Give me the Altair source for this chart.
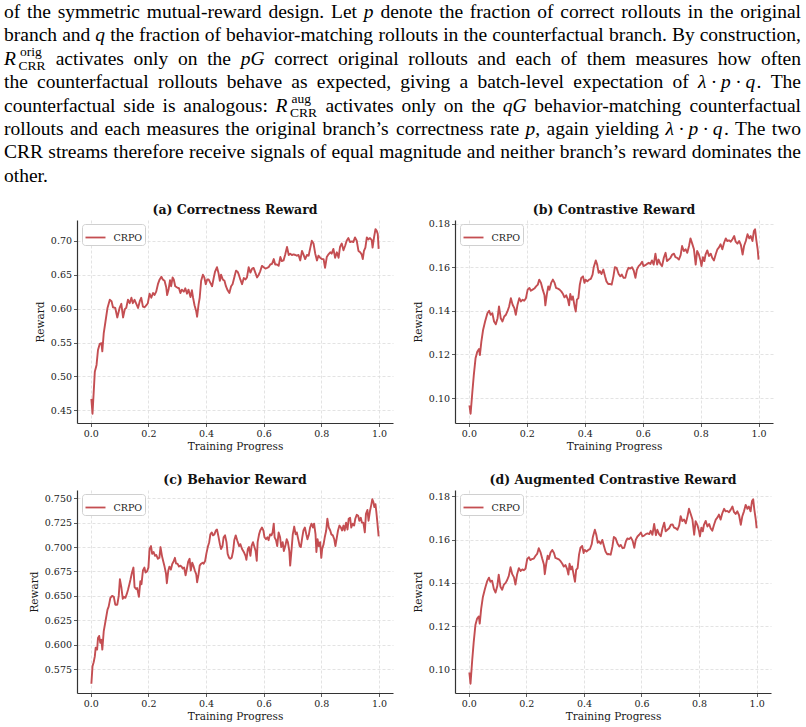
import altair as alt
import pandas as pd

# ---------------------------------------------------------------- data
RUN = "CRPO"
RED = "#C44E52"

progress_a = [
    0.002, 0.006, 0.014, 0.020, 0.025, 0.031, 0.037, 0.040, 0.045, 0.051,
    0.058, 0.066, 0.072, 0.077, 0.085, 0.092, 0.100, 0.106, 0.112, 0.118,
    0.123, 0.129, 0.135, 0.141, 0.146, 0.152, 0.158, 0.164, 0.170, 0.175,
    0.181, 0.187, 0.193, 0.198, 0.204, 0.210, 0.216, 0.221, 0.227, 0.233,
    0.239, 0.245, 0.250, 0.256, 0.262, 0.265, 0.270, 0.275, 0.279, 0.284,
    0.288, 0.293, 0.300, 0.306, 0.311, 0.316, 0.323, 0.328, 0.334, 0.339,
    0.346, 0.351, 0.355, 0.360, 0.366, 0.369, 0.374, 0.378, 0.383, 0.389,
    0.394, 0.399, 0.404, 0.409, 0.415, 0.421, 0.427, 0.431, 0.438, 0.443,
    0.448, 0.452, 0.458, 0.464, 0.469, 0.475, 0.481, 0.487, 0.492, 0.498,
    0.504, 0.510,
    0.513, 0.519, 0.525, 0.531, 0.537, 0.542, 0.548, 0.554, 0.560, 0.565,
    0.571, 0.577, 0.583, 0.588, 0.594, 0.600, 0.606, 0.612, 0.617, 0.623,
    0.629, 0.635, 0.640, 0.646, 0.652, 0.658, 0.663, 0.669, 0.675, 0.681,
    0.687, 0.692, 0.698, 0.704, 0.710, 0.715, 0.721, 0.727, 0.733, 0.738,
    0.744, 0.750, 0.756, 0.761, 0.767, 0.773, 0.779, 0.785, 0.790, 0.796,
    0.802, 0.808, 0.813, 0.819, 0.825, 0.831, 0.836, 0.842, 0.848, 0.854,
    0.860, 0.865, 0.871, 0.877, 0.883, 0.888, 0.894, 0.900, 0.906, 0.911,
    0.917, 0.923, 0.929, 0.935, 0.940,
    0.944, 0.948, 0.953, 0.958, 0.963, 0.969, 0.975, 0.978, 0.983, 0.988,
    0.992, 0.996, 0.999,
]
reward_a = [
    0.467, 0.445, 0.507, 0.517, 0.539, 0.548, 0.549, 0.537, 0.564, 0.581,
    0.601, 0.613, 0.611, 0.602, 0.601, 0.587, 0.601, 0.607, 0.587, 0.599,
    0.601, 0.613, 0.608, 0.616, 0.608, 0.613, 0.607, 0.601, 0.611, 0.616,
    0.603, 0.602, 0.605, 0.608, 0.622, 0.616, 0.623, 0.620, 0.625, 0.636,
    0.643, 0.647, 0.643, 0.641, 0.631, 0.620, 0.628, 0.642, 0.633, 0.646,
    0.643, 0.633, 0.631, 0.630, 0.623, 0.628, 0.625, 0.630, 0.622, 0.628,
    0.617, 0.627, 0.616, 0.605, 0.596, 0.588, 0.606, 0.616, 0.641, 0.650,
    0.646, 0.636, 0.643, 0.643, 0.638, 0.633, 0.646, 0.654, 0.661, 0.653,
    0.641, 0.650, 0.643, 0.641, 0.633, 0.627, 0.623, 0.633, 0.636, 0.646,
    0.656, 0.654,
    0.651, 0.643, 0.636, 0.645, 0.643, 0.646, 0.661, 0.653, 0.659, 0.660,
    0.653, 0.646, 0.650, 0.655, 0.663, 0.661, 0.659, 0.660, 0.661, 0.665,
    0.666, 0.673, 0.665, 0.665, 0.663, 0.676, 0.670, 0.671, 0.680, 0.691,
    0.679, 0.681, 0.679, 0.680, 0.679, 0.678, 0.679, 0.671, 0.685, 0.680,
    0.673, 0.679, 0.678, 0.688, 0.700, 0.696, 0.681, 0.671, 0.678, 0.675,
    0.673, 0.673, 0.660, 0.676, 0.680, 0.683, 0.681, 0.688, 0.675, 0.683,
    0.675, 0.691, 0.696, 0.686, 0.693, 0.700, 0.704, 0.698, 0.699, 0.698,
    0.705, 0.700, 0.685, 0.683, 0.680,
    0.673, 0.685, 0.690, 0.705, 0.702, 0.704, 0.701, 0.690, 0.705, 0.717,
    0.715, 0.710, 0.688,
]

# contrastive (b) and augmented contrastive (d) rewards share the same steps
progress_bd = [
    0.002, 0.006, 0.012, 0.017, 0.023, 0.029, 0.035, 0.038, 0.043, 0.049,
    0.056, 0.064, 0.070, 0.075, 0.081, 0.087, 0.093, 0.099, 0.104, 0.110,
    0.116, 0.122, 0.128, 0.133, 0.139, 0.145, 0.151, 0.157, 0.162, 0.168,
    0.174, 0.180, 0.186, 0.191, 0.197, 0.203, 0.209, 0.214, 0.220, 0.226,
    0.232, 0.238, 0.243, 0.249, 0.255, 0.261, 0.264, 0.269, 0.274, 0.278,
    0.284, 0.290, 0.296, 0.301, 0.307, 0.313, 0.319, 0.325, 0.330, 0.336,
    0.342, 0.346, 0.350, 0.355, 0.359, 0.365, 0.369, 0.373, 0.378, 0.383,
    0.388, 0.394, 0.399, 0.403, 0.409, 0.415, 0.421, 0.427, 0.431, 0.438,
    0.443, 0.448, 0.452, 0.458, 0.464, 0.470, 0.475, 0.481, 0.487, 0.493,
    0.499, 0.504, 0.510,
    0.517, 0.523, 0.528, 0.534, 0.540, 0.546, 0.551, 0.557, 0.563, 0.569,
    0.575, 0.580, 0.586, 0.592, 0.598, 0.603, 0.609, 0.615, 0.621, 0.627,
    0.632, 0.638, 0.644, 0.650, 0.655, 0.661, 0.667, 0.673, 0.679, 0.684,
    0.690, 0.696, 0.702, 0.708, 0.713, 0.719, 0.725, 0.731, 0.736, 0.742,
    0.748, 0.754, 0.760, 0.765, 0.771, 0.777, 0.783, 0.788, 0.794, 0.800,
    0.803, 0.808, 0.813, 0.817, 0.823, 0.829, 0.835, 0.840, 0.846, 0.852,
    0.858, 0.864, 0.869, 0.875, 0.881, 0.887, 0.892, 0.898, 0.904, 0.910,
    0.916, 0.921, 0.927, 0.933, 0.939, 0.945, 0.950, 0.956, 0.962, 0.968,
    0.973, 0.979, 0.984, 0.988, 0.992, 0.997, 1.000,
]
reward_b = [
    0.0966, 0.0928, 0.1028, 0.1105, 0.1182, 0.1212, 0.1225, 0.1197, 0.1258, 0.1312,
    0.1351, 0.1389, 0.1400, 0.1382, 0.1389, 0.1351, 0.1338, 0.1366, 0.1420, 0.1366,
    0.1351, 0.1374, 0.1382, 0.1397, 0.1420, 0.1458, 0.1428, 0.1412, 0.1382, 0.1428,
    0.1458, 0.1443, 0.1451, 0.1446, 0.1458, 0.1497, 0.1505, 0.1492, 0.1497, 0.1502,
    0.1512, 0.1520, 0.1543, 0.1528, 0.1497, 0.1471, 0.1425, 0.1474, 0.1512, 0.1497,
    0.1528, 0.1543, 0.1528, 0.1505, 0.1502, 0.1497, 0.1489, 0.1477, 0.1462, 0.1471,
    0.1451, 0.1425, 0.1477, 0.1451, 0.1466, 0.1420, 0.1397, 0.1451, 0.1458, 0.1520,
    0.1551, 0.1558, 0.1528, 0.1543, 0.1535, 0.1543, 0.1546, 0.1566, 0.1600, 0.1631,
    0.1612, 0.1574, 0.1582, 0.1569, 0.1589, 0.1558, 0.1535, 0.1523, 0.1523, 0.1520,
    0.1558, 0.1600, 0.1597,
    0.1569, 0.1558, 0.1566, 0.1551, 0.1551, 0.1582, 0.1597, 0.1594, 0.1600, 0.1585,
    0.1551, 0.1589, 0.1605, 0.1612, 0.1625, 0.1605, 0.1609, 0.1615, 0.1620, 0.1615,
    0.1631, 0.1612, 0.1662, 0.1612, 0.1635, 0.1615, 0.1605, 0.1643, 0.1666, 0.1628,
    0.1635, 0.1643, 0.1658, 0.1662, 0.1646, 0.1643, 0.1635, 0.1655, 0.1697, 0.1674,
    0.1682, 0.1666, 0.1697, 0.1732, 0.1708, 0.1682, 0.1612, 0.1674, 0.1658, 0.1628,
    0.1605, 0.1646, 0.1628, 0.1658, 0.1677, 0.1651, 0.1662, 0.1643, 0.1631, 0.1658,
    0.1682, 0.1692, 0.1705, 0.1682, 0.1712, 0.1732, 0.1720, 0.1723, 0.1717, 0.1728,
    0.1743, 0.1717, 0.1708, 0.1720, 0.1702, 0.1658, 0.1697, 0.1720, 0.1751, 0.1732,
    0.1743, 0.1720, 0.1766, 0.1774, 0.1728, 0.1682, 0.1635,
]
reward_d = [
    0.0986, 0.0934, 0.1045, 0.1125, 0.1205, 0.1235, 0.1245, 0.1212, 0.1280, 0.1335,
    0.1372, 0.1408, 0.1424, 0.1405, 0.1410, 0.1372, 0.1355, 0.1385, 0.1438, 0.1382,
    0.1368, 0.1392, 0.1400, 0.1412, 0.1432, 0.1472, 0.1440, 0.1425, 0.1392, 0.1440,
    0.1468, 0.1455, 0.1462, 0.1458, 0.1465, 0.1510, 0.1518, 0.1505, 0.1510, 0.1512,
    0.1525, 0.1535, 0.1560, 0.1542, 0.1512, 0.1485, 0.1440, 0.1488, 0.1525, 0.1510,
    0.1540, 0.1552, 0.1538, 0.1515, 0.1512, 0.1508, 0.1500, 0.1488, 0.1475, 0.1482,
    0.1462, 0.1438, 0.1488, 0.1462, 0.1476, 0.1432, 0.1405, 0.1460, 0.1468, 0.1530,
    0.1562, 0.1570, 0.1538, 0.1552, 0.1545, 0.1552, 0.1556, 0.1578, 0.1612, 0.1645,
    0.1622, 0.1585, 0.1592, 0.1580, 0.1598, 0.1568, 0.1545, 0.1532, 0.1533, 0.1530,
    0.1568, 0.1612, 0.1606,
    0.1580, 0.1568, 0.1575, 0.1560, 0.1562, 0.1592, 0.1605, 0.1602, 0.1610, 0.1595,
    0.1562, 0.1598, 0.1614, 0.1622, 0.1632, 0.1615, 0.1618, 0.1625, 0.1628, 0.1625,
    0.1640, 0.1622, 0.1672, 0.1620, 0.1645, 0.1625, 0.1615, 0.1652, 0.1678, 0.1638,
    0.1645, 0.1652, 0.1668, 0.1670, 0.1655, 0.1652, 0.1645, 0.1665, 0.1708, 0.1685,
    0.1692, 0.1675, 0.1708, 0.1742, 0.1718, 0.1692, 0.1622, 0.1685, 0.1668, 0.1638,
    0.1615, 0.1655, 0.1638, 0.1668, 0.1686, 0.1660, 0.1672, 0.1652, 0.1641, 0.1668,
    0.1692, 0.1702, 0.1715, 0.1692, 0.1722, 0.1742, 0.1730, 0.1732, 0.1726, 0.1738,
    0.1752, 0.1728, 0.1718, 0.1730, 0.1712, 0.1668, 0.1706, 0.1730, 0.1760, 0.1742,
    0.1752, 0.1730, 0.1778, 0.1786, 0.1738, 0.1692, 0.1652,
]

progress_c = [
    0.002, 0.006, 0.010, 0.014, 0.017, 0.022, 0.025, 0.029, 0.033, 0.037,
    0.040, 0.045, 0.051, 0.058, 0.062, 0.068, 0.074, 0.080, 0.085, 0.092,
    0.097, 0.101, 0.106, 0.111, 0.115, 0.120, 0.125, 0.129, 0.134, 0.138,
    0.143, 0.148, 0.152, 0.157, 0.161, 0.167, 0.172, 0.176, 0.181, 0.186,
    0.190, 0.195, 0.200, 0.204, 0.209, 0.213, 0.218, 0.223, 0.227, 0.233,
    0.238, 0.242, 0.247, 0.251, 0.256, 0.261, 0.264, 0.269, 0.273, 0.278,
    0.283, 0.287, 0.292, 0.296, 0.301, 0.306, 0.310, 0.315, 0.319, 0.324,
    0.329, 0.333, 0.338, 0.343, 0.347, 0.352, 0.356, 0.361, 0.366, 0.369,
    0.374, 0.378, 0.383, 0.388, 0.392, 0.397, 0.401, 0.406, 0.411, 0.415,
    0.420, 0.424, 0.429, 0.434, 0.438, 0.443, 0.448, 0.452, 0.457, 0.461,
    0.466, 0.471, 0.475, 0.480, 0.484, 0.489, 0.494, 0.498, 0.503, 0.508,
    0.515, 0.519, 0.525, 0.531, 0.537, 0.540, 0.545, 0.549, 0.554, 0.558,
    0.563, 0.568, 0.572, 0.576, 0.579, 0.584, 0.588, 0.594, 0.599, 0.603,
    0.608, 0.613, 0.617, 0.622, 0.627, 0.631, 0.635, 0.638, 0.643, 0.647,
    0.652, 0.657, 0.661, 0.666, 0.670, 0.675, 0.680, 0.684, 0.689, 0.692,
    0.697, 0.701, 0.706, 0.711, 0.715, 0.720, 0.725, 0.729, 0.734, 0.738,
    0.743, 0.748, 0.752, 0.757, 0.761, 0.766, 0.771, 0.775, 0.780, 0.783,
    0.787, 0.791, 0.796, 0.800, 0.803, 0.808, 0.812, 0.817, 0.821, 0.826,
    0.831, 0.835, 0.840, 0.845, 0.849, 0.854, 0.858, 0.863, 0.868, 0.872,
    0.877, 0.881, 0.886, 0.891, 0.895, 0.900, 0.904, 0.909, 0.914, 0.918,
    0.923, 0.928, 0.932, 0.937, 0.941, 0.946, 0.951, 0.955, 0.960, 0.964,
    0.969, 0.974, 0.977, 0.981, 0.984, 0.988, 0.991, 0.994, 0.999,
]
reward_c = [
    0.560, 0.578, 0.582, 0.588, 0.597, 0.595, 0.607, 0.609, 0.602, 0.605,
    0.595, 0.614, 0.624, 0.636, 0.639, 0.648, 0.650, 0.649, 0.641, 0.641,
    0.650, 0.667, 0.659, 0.647, 0.649, 0.648, 0.652, 0.656, 0.662, 0.667,
    0.674, 0.679, 0.659, 0.657, 0.658, 0.649, 0.665, 0.662, 0.676, 0.679,
    0.674, 0.675, 0.679, 0.698, 0.701, 0.693, 0.695, 0.691, 0.692, 0.688,
    0.689, 0.700, 0.691, 0.686, 0.680, 0.673, 0.663, 0.676, 0.680, 0.677,
    0.683, 0.685, 0.689, 0.683, 0.683, 0.680, 0.681, 0.680, 0.678, 0.679,
    0.671, 0.677, 0.685, 0.688, 0.676, 0.684, 0.681, 0.676, 0.672, 0.664,
    0.672, 0.681, 0.683, 0.684, 0.683, 0.686, 0.693, 0.700, 0.705, 0.713,
    0.715, 0.712, 0.713, 0.717, 0.718, 0.711, 0.703, 0.698, 0.701, 0.710,
    0.712, 0.705, 0.693, 0.689, 0.688, 0.689, 0.696, 0.707, 0.712, 0.707,
    0.701, 0.703, 0.698, 0.695, 0.691, 0.687, 0.698, 0.700, 0.691, 0.701,
    0.705, 0.700, 0.696, 0.686, 0.705, 0.713, 0.717, 0.720, 0.717, 0.710,
    0.708, 0.710, 0.707, 0.713, 0.712, 0.715, 0.724, 0.710, 0.707, 0.701,
    0.715, 0.710, 0.700, 0.705, 0.696, 0.701, 0.708, 0.705, 0.696, 0.681,
    0.698, 0.713, 0.721, 0.713, 0.715, 0.708, 0.701, 0.700, 0.710, 0.717,
    0.720, 0.713, 0.708, 0.713, 0.720, 0.724, 0.720, 0.724, 0.713, 0.695,
    0.708, 0.701, 0.705, 0.689, 0.698, 0.703, 0.710, 0.717, 0.729, 0.720,
    0.717, 0.713, 0.712, 0.708, 0.701, 0.710, 0.717, 0.722, 0.720, 0.717,
    0.722, 0.717, 0.725, 0.718, 0.729, 0.730, 0.720, 0.724, 0.722, 0.729,
    0.733, 0.732, 0.727, 0.730, 0.725, 0.725, 0.715, 0.734, 0.738, 0.727,
    0.737, 0.744, 0.749, 0.746, 0.741, 0.744, 0.736, 0.727, 0.711,
]

x_ticks = [0.0, 0.2, 0.4, 0.6, 0.8, 1.0]
ticks_a = [0.45, 0.50, 0.55, 0.60, 0.65, 0.70]
ticks_bd = [0.10, 0.12, 0.14, 0.16, 0.18]
ticks_c = [0.575, 0.600, 0.625, 0.650, 0.675, 0.700, 0.725, 0.750]

panel_titles = [
    "(a) Correctness Reward",
    "(b) Contrastive Reward",
    "(c) Behavior Reward",
    "(d) Augmented Contrastive Reward",
]

# body text above the figure; *...* marks math italics,
# {orig}/{aug} stand for the R_CRR symbols
NB = "\u00a0"
LPQ = f"*λ{NB}·{NB}p{NB}·{NB}q*."
paragraph = [
    "of the symmetric mutual-reward design. Let *p* denote the fraction of correct rollouts in the original",
    "branch and *q* the fraction of behavior-matching rollouts in the counterfactual branch. By construction,",
    "{orig} activates only on the *pG* correct original rollouts and each of them measures how often",
    f"the counterfactual rollouts behave as expected, giving a batch-level expectation of {LPQ} The",
    "counterfactual side is analogous: {aug} activates only on the *qG* behavior-matching counterfactual",
    f"rollouts and each measures the original branch’s correctness rate *p*, again yielding {LPQ} The two",
    "CRR streams therefore receive signals of equal magnitude and neither branch’s reward dominates the",
    "other.",
]

for xs, ys in [(progress_a, reward_a), (progress_bd, reward_b),
               (progress_bd, reward_d), (progress_c, reward_c)]:
    assert len(xs) == len(ys)

# ---------------------------------------------------------------- text layout
SERIF = "DejaVu Serif"
BODY_FONT = "Liberation Serif"
BODY_SIZE = 19.5
SCRIPT_SIZE = 13.5
# paragraph placement, relative to the origin of panel (a)
LEFT = -73
TEXT_WIDTH = 797
FIRST_BASELINE = -202
LEADING = 23.4
R_ADV = 15.0
SUP_RISE = 9.0
SUB_DROP = 5.0

# Times-compatible advance widths (1/1000 em)
ADV = {
    " ": 250, NB: 250, ",": 250, ".": 250, ":": 278, "-": 333, "’": 333, "·": 250, "λ": 500,
    "a": 444, "b": 500, "c": 444, "d": 500, "e": 444, "f": 333, "g": 500, "h": 500,
    "i": 278, "j": 278, "k": 500, "l": 278, "m": 778, "n": 500, "o": 500, "p": 500,
    "q": 500, "r": 333, "s": 389, "t": 278, "u": 500, "v": 500, "w": 722, "x": 500,
    "y": 500, "z": 444,
    "A": 722, "B": 667, "C": 667, "D": 722, "E": 611, "F": 556, "G": 722, "H": 722,
    "I": 333, "J": 389, "K": 722, "L": 611, "M": 889, "N": 722, "O": 722, "P": 556,
    "Q": 722, "R": 667, "S": 556, "T": 611, "U": 722, "V": 722, "W": 944, "X": 722,
    "Y": 722, "Z": 611,
}
SCRIPTS = {"{orig}": "orig", "{aug}": "aug"}


def text_width(s, size):
    return sum(ADV.get(ch, 500) for ch in s) * size / 1000.0


def segments(token):
    """Split a token into (text, italic) pieces on '*' markers."""
    parts = token.split("*")
    return [(p, k % 2 == 1) for k, p in enumerate(parts) if p]


def layout_paragraph():
    upright, italic = [], []
    for i, line in enumerate(paragraph):
        base = FIRST_BASELINE + i * LEADING
        tokens = [t for t in line.split(" ") if t]
        widths = []
        for t in tokens:
            if t in SCRIPTS:
                widths.append(R_ADV + max(text_width(SCRIPTS[t], SCRIPT_SIZE),
                                          text_width("CRR", SCRIPT_SIZE)))
            else:
                widths.append(sum(text_width(s, BODY_SIZE) for s, _ in segments(t)))
        if i == len(paragraph) - 1 or len(tokens) < 2:
            gap = 0.25 * BODY_SIZE
        else:
            gap = (TEXT_WIDTH - sum(widths)) / (len(tokens) - 1)
        x = LEFT
        for t, w in zip(tokens, widths):
            if t in SCRIPTS:
                italic.append({"txt": "R", "px": x, "py": base, "fs": BODY_SIZE})
                upright.append({"txt": SCRIPTS[t], "px": x + R_ADV + 1.0,
                                "py": base - SUP_RISE, "fs": SCRIPT_SIZE})
                upright.append({"txt": "CRR", "px": x + R_ADV - 0.5,
                                "py": base + SUB_DROP, "fs": SCRIPT_SIZE})
            else:
                sx = x
                for s, is_it in segments(t):
                    row = {"txt": s, "px": sx, "py": base, "fs": BODY_SIZE}
                    (italic if is_it else upright).append(row)
                    sx += text_width(s, BODY_SIZE)
            x += w + gap
    return pd.DataFrame(upright), pd.DataFrame(italic)


def text_layer(df, style):
    return alt.Chart(df).mark_text(
        align="left", baseline="alphabetic", font=BODY_FONT, fontStyle=style, color="#000000"
    ).encode(
        x=alt.X("px:Q", scale=None, axis=None),
        y=alt.Y("py:Q", scale=None, axis=None),
        size=alt.Size("fs:Q", scale=None, legend=None),
        text=alt.Text("txt:N"),
    )


# ---------------------------------------------------------------- panels
def padded(vals):
    lo, hi = min(vals), max(vals)
    m = 0.05 * (hi - lo)
    return [lo - m, hi + m]


def panel(title, xs, ys, yticks, yfmt, w, h, extra=()):
    df = pd.DataFrame({"progress": xs, "reward": ys, "run": RUN})
    line = alt.Chart(df).mark_line(strokeWidth=1.9, clip=True, strokeJoin="round").encode(
        x=alt.X("progress:Q", title="Training Progress",
                scale=alt.Scale(domain=padded(xs), nice=False, zero=False),
                axis=alt.Axis(values=x_ticks, format=".1f")),
        y=alt.Y("reward:Q", title="Reward",
                scale=alt.Scale(domain=padded(ys), nice=False, zero=False),
                axis=alt.Axis(values=yticks, format=yfmt)),
        color=alt.Color(
            "run:N",
            scale=alt.Scale(domain=[RUN], range=[RED]),
            legend=alt.Legend(
                title=None, orient="none", legendX=5, legendY=4, padding=2.5,
                fillColor="white", strokeColor="#d0d0d0", cornerRadius=3,
                symbolType="stroke", symbolSize=400, symbolStrokeWidth=1.8,
                labelFont=SERIF, labelFontSize=9.5, labelColor="#1a1a1a", labelOffset=7,
            ),
        ),
    )
    # panel heading, centred over the plot area
    heading = alt.Chart(pd.DataFrame({"t": [title]})).mark_text(
        font=SERIF, fontSize=12.5, fontWeight="bold", color="#111111",
        align="center", baseline="alphabetic",
    ).encode(text="t:N", x=alt.value(w / 2), y=alt.value(-6.5))
    return alt.layer(line, heading, *extra).properties(width=w, height=h)


upright_df, italic_df = layout_paragraph()
body = (text_layer(upright_df, "normal"), text_layer(italic_df, "italic"))

pa = panel(panel_titles[0], progress_a, reward_a, ticks_a, ".2f", 316, 203, extra=body)
pb = panel(panel_titles[1], progress_bd, reward_b, ticks_bd, ".2f", 318, 203)
pc = panel(panel_titles[2], progress_c, reward_c, ticks_c, ".3f", 316, 203)
pd_ = panel(panel_titles[3], progress_bd, reward_d, ticks_bd, ".2f", 316, 203)

chart = (
    alt.concat(pa, pb, pc, pd_, columns=2, spacing={"row": 67, "column": 62}, bounds="flush")
    .resolve_scale(color="independent")
    .resolve_legend(color="independent")
    .properties(padding={"left": 4, "top": 2, "right": 0, "bottom": 0}, background="white")
    .configure_view(stroke=None)
    .configure_axis(
        labelFont=SERIF, labelFontSize=9.5, labelColor="#1a1a1a", labelPadding=2,
        titleFont=SERIF, titleFontSize=10.5, titleFontWeight="normal", titleColor="#1a1a1a",
        domainColor="#333333", domainWidth=1.2,
        tickColor="#333333", tickSize=3.5, tickWidth=0.8,
        grid=True, gridColor="#dcdcdc", gridDash=[3, 2], gridWidth=0.8,
    )
    .configure_axisX(titlePadding=3)
    .configure_axisY(titlePadding=5)
)

chart.save("out.html", embed_options={"renderer": "svg", "actions": False})
